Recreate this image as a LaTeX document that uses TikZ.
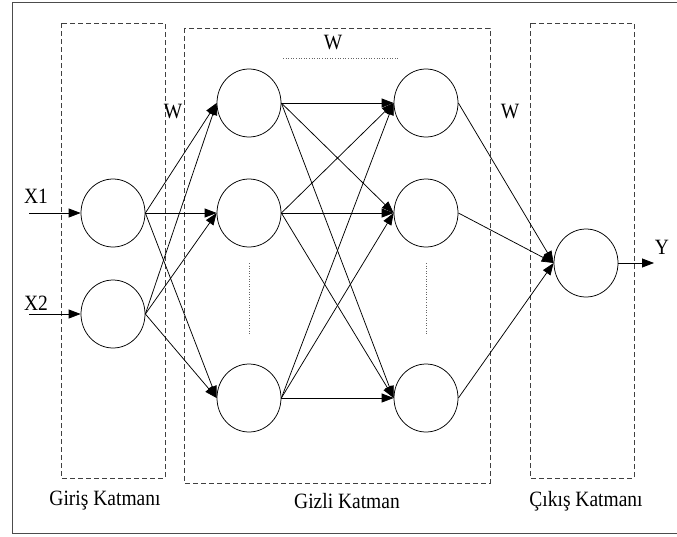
\documentclass[tikz,border=0pt]{standalone}
\usepackage{fontspec}
\setmainfont{Liberation Serif}
\usetikzlibrary{shapes.geometric,arrows.meta}
\begin{document}
\begin{tikzpicture}[x=1pt,y=-1pt,
  neuron/.style={ellipse,draw,line width=0.75pt,minimum width=64pt,minimum height=68pt,inner sep=0pt},
  layerbox/.style={draw=black!75,line width=0.8pt,dash pattern=on 5pt off 3pt},
  link/.style={line width=0.75pt,-{Triangle[length=12pt,width=9pt]}},
  lbl/.style={font=\fontsize{19.5}{22}\selectfont,inner sep=0pt,yscale=1.12,transform shape},
  guide/.style={black!60,line width=0.6pt,dotted}]
\useasboundingbox (0,0) rectangle (677,536);
% outer frame
\draw[black!70,line width=1pt] (12,2) rectangle (680,533);
% layer boxes
\draw[layerbox] (61,23) rectangle (165,478);
\draw[layerbox] (184,28) rectangle (490,483);
\draw[layerbox] (530,23) rectangle (634,478);
% neurons
\node[neuron] (i1) at (113,213) {};
\node[neuron] (i2) at (113,314) {};
\node[neuron] (a1) at (249,103) {};
\node[neuron] (a2) at (249,213) {};
\node[neuron] (a3) at (249,398) {};
\node[neuron] (b1) at (426,103) {};
\node[neuron] (b2) at (426,213) {};
\node[neuron] (b3) at (426,398) {};
\node[neuron] (o) at (586,263) {};
% inputs and output
\coordinate (x1s) at (29,213);
\coordinate (x2s) at (29,314);
\coordinate (ye) at (654,263);
\draw[link] (x1s) -- (i1.west);
\draw[link] (x2s) -- (i2.west);
\draw[link] (o.east) -- (ye);
% input -> hidden
\foreach \s in {i1,i2}
  \foreach \t in {a1,a2,a3}
    \draw[link] (\s.east) -- (\t.west);
% hidden -> hidden
\foreach \s in {a1,a2,a3}
  \foreach \t in {b1,b2,b3}
    \draw[link] (\s.east) -- (\t.west);
% hidden -> output
\foreach \s in {b1,b2,b3}
  \draw[link] (\s.east) -- (o.west);
% ellipsis guides between hidden neurons
\coordinate (g1a) at (249,263); \coordinate (g1b) at (249,334);
\coordinate (g2a) at (426,263); \coordinate (g2b) at (426,334);
\coordinate (g3a) at (283,58);  \coordinate (g3b) at (398,58);
\draw[guide] (g1a) -- (g1b);
\draw[guide] (g2a) -- (g2b);
\draw[guide] (g3a) -- (g3b);
% labels
\node[lbl] (lx1) at (36,196) {X1};
\node[lbl] (lx2) at (36,303) {X2};
\node[lbl] (ly) at (662,247) {Y};
\node[lbl] (w1) at (173,112) {W};
\node[lbl] (w2) at (333,43) {W};
\node[lbl] (w3) at (510,112) {W};
\node[lbl] (t1) at (105,501) {Giriş Katmanı};
\node[lbl] (t2) at (347,501) {Gizli Katman};
\node[lbl] (t3) at (586,501) {Çıkış Katmanı};
\end{tikzpicture}
\end{document}
